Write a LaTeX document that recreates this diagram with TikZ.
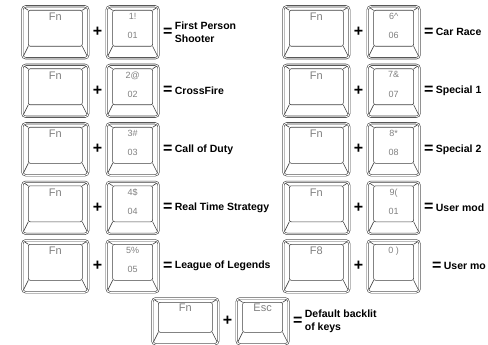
\documentclass[tikz,border=0pt]{standalone}
\usepackage{fontspec}
\setmainfont{Liberation Sans}
\usetikzlibrary{positioning}

\begin{document}
\begin{tikzpicture}[x=1pt, y=-1pt]
    \tikzset{
      keycap/.style={draw=black!75, line width=0.6pt, double=white, double distance=0.9pt,
        rounded corners=3.5pt, minimum height=52pt, inner sep=0pt, anchor=north west,
        path picture={
          \draw[black!75, line width=0.6pt, rounded corners=2pt]
            ([shift={(6pt,-4pt)}]path picture bounding box.north west) rectangle
            ([shift={(-6pt,12pt)}]path picture bounding box.south east);
          \draw[black!75, line width=0.6pt]
            ([shift={(6pt,-4pt)}]path picture bounding box.north west) -- (path picture bounding box.north west)
            ([shift={(-6pt,-4pt)}]path picture bounding box.north east) -- (path picture bounding box.north east)
            ([shift={(6pt,12pt)}]path picture bounding box.south west) -- (path picture bounding box.south west)
            ([shift={(-6pt,12pt)}]path picture bounding box.south east) -- (path picture bounding box.south east);
        }},
      fnkey/.style={keycap, minimum width=66pt},
      numkey/.style={keycap, minimum width=52pt},
      keytext/.style={text=black!50, font=\fontsize{9}{9}\selectfont, inner sep=0pt},
      fntext/.style={keytext, font=\fontsize{11}{11}\selectfont},
      op/.style={font=\bfseries\fontsize{16}{16}\selectfont, inner sep=0pt},
      result/.style={font=\bfseries\fontsize{10.5}{12.5}\selectfont, align=left, inner sep=0pt}
    }

    \useasboundingbox (0,0) rectangle (488,345);

    % left column
    \foreach \toplbl/\botlbl/\result [count=\i] in {1!/01/{First Person\\Shooter},
        2@/02/CrossFire, 3\#/03/Call of Duty, 4\$/04/Real Time Strategy,
        5\%/05/League of Legends} {
      \node[fnkey] (fnL\i) at (22, {6+58.5*(\i-1)}) {};
      \node[fntext, below=7pt of fnL\i.north] (fnLt\i) {Fn};
      \node[op, right=4pt of fnL\i] (plusL\i) {+};
      \node[numkey, right=4pt of plusL\i] (numL\i) {};
      \node[keytext, below=7pt of numL\i.north] (numLt\i) {\toplbl};
      \node[keytext, below=0pt of numL\i.center] (numLb\i) {\botlbl};
      \node[op, right=4pt of numL\i] (eqL\i) {=};
      \node[result, right=2pt of eqL\i] (resL\i) {\result};
    }

    % right column
    \foreach \fnlbl/\toplbl/\botlbl/\result/\gap [count=\i] in {Fn/6\textasciicircum/06/Car Race/4pt,
        Fn/7\&/07/Special 1/4pt, Fn/8*/08/Special 2/4pt, Fn/9(/01/User mod/4pt,
        F8/0 )/{}/User mo/12pt} {
      \node[fnkey] (fnR\i) at (283, {6+58.5*(\i-1)}) {};
      \node[fntext, below=7pt of fnR\i.north] (fnRt\i) {\fnlbl};
      \node[op, right=4pt of fnR\i] (plusR\i) {+};
      \node[numkey, right=4pt of plusR\i] (numR\i) {};
      \node[keytext, below=7pt of numR\i.north] (numRt\i) {\toplbl};
      \node[keytext, below=0pt of numR\i.center] (numRb\i) {\botlbl};
      \node[op, right=\gap of numR\i] (eqR\i) {=};
      \node[result, right=2pt of eqR\i] (resR\i) {\result};
    }

    % bottom row
    \node[fnkey, minimum height=46pt] (fnB) at (152,298) {};
    \node[fntext, below=6pt of fnB.north] (fnBt) {Fn};
    \node[op, right=4pt of fnB] (plusB) {+};
    \node[numkey, minimum height=46pt, right=4pt of plusB] (escB) {};
    \node[fntext, below=6pt of escB.north] (escBt) {Esc};
    \node[op, right=4pt of escB] (eqB) {=};
    \node[result, right=2pt of eqB] (resB) {Default backlit\\of keys};
\end{tikzpicture}
\end{document}
